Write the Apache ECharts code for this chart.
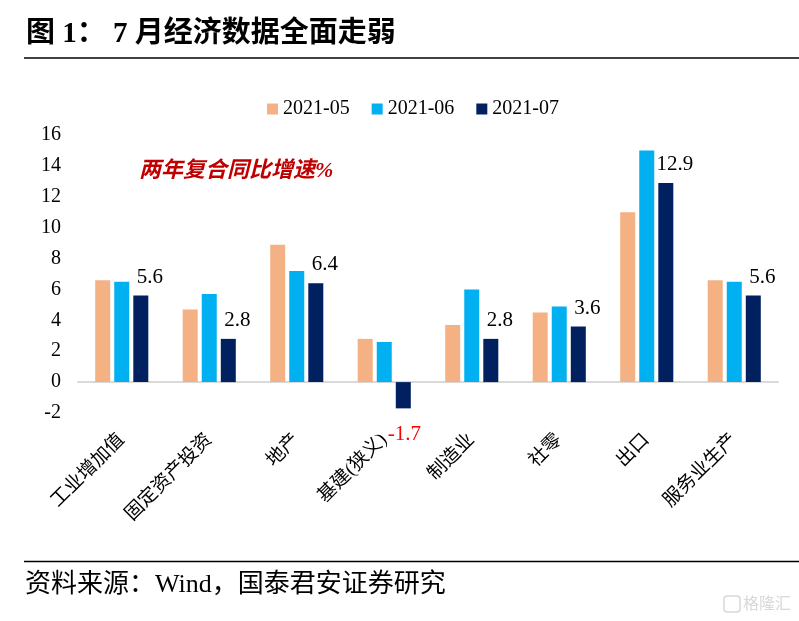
<!DOCTYPE html>
<html><head><meta charset="utf-8">
<script src="https://cdn.jsdelivr.net/npm/echarts@6/dist/echarts.min.js"></script>
<style>html,body{margin:0;padding:0;background:#fff}#c{width:799px;height:621px}</style>
</head><body><div id="c"></div>
<script>
var categories = ['工业增加值','固定资产投资','地产','基建(狭义)','制造业','社零','出口','服务业生产'];
var seriesNames = ['2021-05','2021-06','2021-07'];
var v202105 = [6.6, 4.7, 8.9, 2.8, 3.7, 4.5, 11.0, 6.6];
var v202106 = [6.5, 5.7, 7.2, 2.6, 6.0, 4.9, 15.0, 6.5];
var v202107 = [5.6, 2.8, 6.4, -1.7, 2.8, 3.6, 12.9, 5.6];
var yTicks = {min: -2, max: 16, interval: 2};
var titleText = '图 1： 7 月经济数据全面走弱';
var noteText = '两年复合同比增速%';
var sourceText = '资料来源：Wind，国泰君安证券研究';

var SERIF = "'Liberation Serif','Times New Roman','Noto Sans CJK SC',serif";
var colors = ['#F4B183', '#00B0F0', '#002060'];

var chart = echarts.init(document.getElementById('c'), null, {renderer: 'canvas'});

var d07 = v202107.map(function (v) {
  if (v < 0) {
    return {value: v, label: {show: true, position: 'bottom', distance: 16, offset: [1, 0], color: '#FF0000'}};
  }
  return {value: v};
});

function mkSeries(name, data, idx, withLabel) {
  var s = {
    name: name, type: 'bar', data: data, barWidth: 15, barGap: '27%',
    itemStyle: {color: colors[idx]},
    emphasis: {disabled: true},
    label: {show: false}
  };
  if (withLabel) {
    s.label = {show: true, position: 'top', distance: 8, offset: [9, 0],
      fontFamily: SERIF, fontSize: 21, color: '#000'};
  }
  return s;
}

chart.setOption({
  animation: false,
  backgroundColor: '#fff',
  grid: {left: 78, right: 21, top: 135, bottom: 208, containLabel: false},
  legend: {
    left: 262, top: 94, itemWidth: 11, itemHeight: 11, itemGap: 22, icon: 'rect',
    textStyle: {fontFamily: SERIF, fontSize: 20, color: '#000'},
    data: seriesNames
  },
  xAxis: {
    type: 'category', data: categories,
    axisLine: {onZero: true, lineStyle: {color: '#D9D9D9', width: 2}},
    axisTick: {show: false},
    axisLabel: {rotate: 45, margin: 24, interval: 0, fontFamily: SERIF, fontSize: 19, color: '#000'}
  },
  yAxis: {
    type: 'value', min: yTicks.min, max: yTicks.max, interval: yTicks.interval,
    axisLine: {show: false}, axisTick: {show: false}, splitLine: {show: false},
    axisLabel: {margin: 17, fontFamily: SERIF, fontSize: 20, color: '#000'}
  },
  series: [
    mkSeries(seriesNames[0], v202105, 0, false),
    mkSeries(seriesNames[1], v202106, 1, false),
    mkSeries(seriesNames[2], d07, 2, true)
  ],
  graphic: [
    {type: 'text', left: 26, top: 20, style: {text: titleText, fontFamily: SERIF, fontSize: 29, fontWeight: 'bold', fill: '#000'}},
    {type: 'line', shape: {x1: 24, y1: 58, x2: 799, y2: 58}, style: {stroke: '#000', lineWidth: 1.5}},
    {type: 'text', left: 139, top: 160, style: {text: noteText, fontFamily: SERIF, fontSize: 22, fontStyle: 'italic', fontWeight: 'bold', fill: '#C00000'}},
    {type: 'line', shape: {x1: 24, y1: 561.5, x2: 799, y2: 561.5}, style: {stroke: '#000', lineWidth: 1.5}},
    {type: 'text', left: 25, top: 572, style: {text: sourceText, fontFamily: SERIF, fontSize: 26, fill: '#000'}},
    {type: 'rect', shape: {x: 724, y: 596, width: 16, height: 16, r: 3}, style: {fill: 'none', stroke: '#D8D8D8', lineWidth: 1.5}},
    {type: 'text', left: 743, top: 595, style: {text: '格隆汇', fontFamily: "'Noto Sans CJK SC',sans-serif", fontSize: 16, fill: '#D8D8D8'}}
  ]
});
</script>
</body></html>
